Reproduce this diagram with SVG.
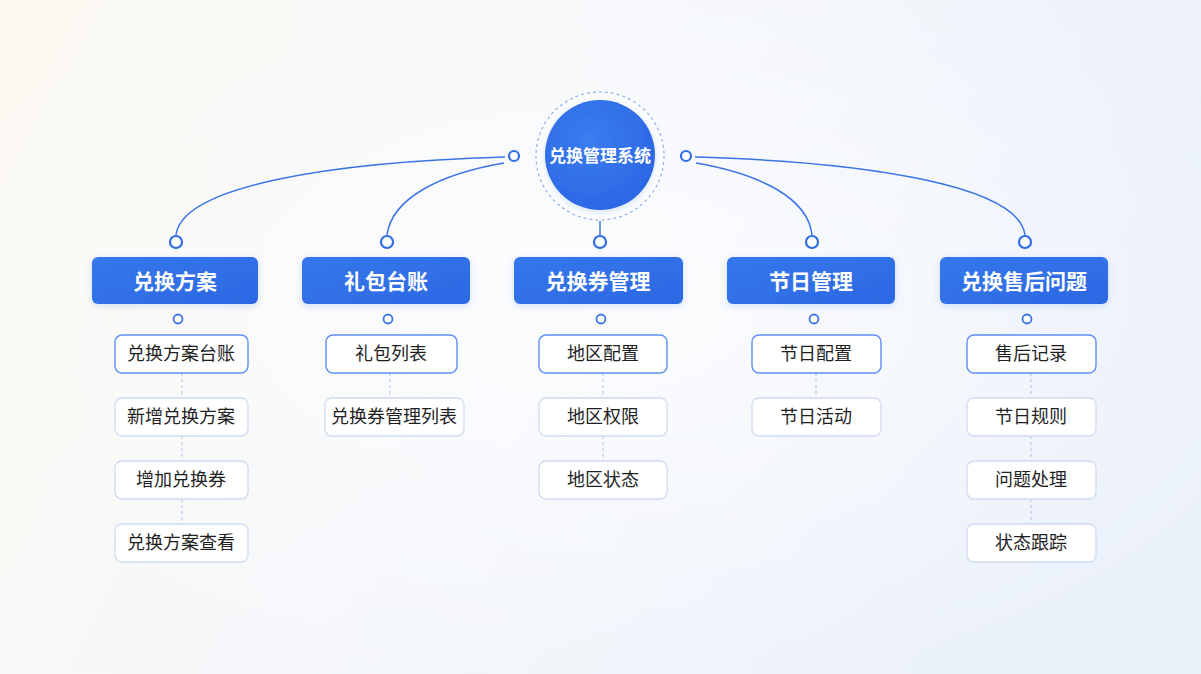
<svg xmlns="http://www.w3.org/2000/svg" width="1201" height="674" viewBox="0 0 1201 674">
<defs>
<linearGradient id="bg" x1="0" y1="0" x2="1" y2="0.3">
<stop offset="0" stop-color="#fcf9f1"/>
<stop offset="0.5" stop-color="#f5f7fb"/>
<stop offset="1" stop-color="#ebf1fb"/>
</linearGradient>
<radialGradient id="glow" cx="0.5" cy="0.45" r="0.6">
<stop offset="0" stop-color="#ffffff" stop-opacity="0.7"/>
<stop offset="1" stop-color="#ffffff" stop-opacity="0"/>
</radialGradient>
<linearGradient id="head" x1="0" y1="0" x2="1" y2="1">
<stop offset="0" stop-color="#3577ec"/>
<stop offset="1" stop-color="#2c68e3"/>
</linearGradient>
<radialGradient id="hub" cx="0.4" cy="0.35" r="0.7">
<stop offset="0" stop-color="#3b7cf0"/>
<stop offset="1" stop-color="#2b67e4"/>
</radialGradient>
<filter id="sh" x="-20%" y="-20%" width="140%" height="160%">
<feDropShadow dx="0" dy="2" stdDeviation="3" flood-color="#2c68e3" flood-opacity="0.18"/>
</filter>
</defs>
<style>
.conn{fill:none;stroke:#3a74e6;stroke-width:1.5}
.dash{fill:none;stroke:#b9c9ea;stroke-width:1.2;stroke-dasharray:3 3}
.dot{fill:#ffffff;stroke:#2f6ce5;stroke-width:2.2}
.dot2{fill:#ffffff;stroke:#3a74e6;stroke-width:1.8}
.head{fill:url(#head)}
.htxt{font-family:"Noto Sans CJK SC","Noto Sans",sans-serif;font-weight:700;font-size:21px;fill:#ffffff;text-anchor:middle}
.item{fill:#ffffff;stroke:#cfdcf3;stroke-width:1.3}
.item1{fill:#ffffff;stroke:#5d8ff0;stroke-width:1.4}
.itxt{font-family:"Noto Sans CJK SC","Noto Sans",sans-serif;font-size:18px;fill:#1f1f1f;text-anchor:middle}
</style>
<rect width="1201" height="674" fill="url(#bg)"/>
<rect width="1201" height="674" fill="url(#glow)"/>

<g id="connectors">
<path class="conn" d="M505,157 C330,162 182,186 176,235"/>
<path class="conn" d="M504,163 C440,174 392,198 387,235"/>
<path class="conn" d="M600,221 L600,235"/>
<path class="conn" d="M696,163 C760,174 808,198 812,235"/>
<path class="conn" d="M695,157 C870,162 1019,186 1025,235"/>
<path class="dash" d="M182,373 V398 M182,436 V461 M182,499 V524"/>
<path class="dash" d="M390,373 V398"/>
<path class="dash" d="M603,373 V398 M603,436 V461"/>
<path class="dash" d="M816,373 V398"/>
<path class="dash" d="M1031,373 V398 M1031,436 V461 M1031,499 V524"/>
</g>

<g id="hub">
<circle cx="600" cy="156" r="64" fill="#ffffff" fill-opacity="0.6" stroke="#8fb0ec" stroke-width="1.2" stroke-dasharray="3 3"/>
<circle cx="600" cy="155" r="55" fill="url(#hub)" filter="url(#sh)"/>
<text x="600" y="162" font-family="'Noto Sans CJK SC','Noto Sans',sans-serif" font-weight="700" font-size="17" fill="#ffffff" text-anchor="middle">兑换管理系统</text>
<circle class="dot" cx="514" cy="156" r="5"/>
<circle class="dot" cx="686" cy="156" r="5"/>
</g>

<g id="col1">
<circle class="dot" cx="176" cy="242" r="6"/>
<rect class="head" x="92" y="257" width="166" height="47" rx="6" filter="url(#sh)"/>
<text class="htxt" x="175" y="289">兑换方案</text>
<circle class="dot2" cx="178" cy="319" r="4.5"/>
<rect class="item1" x="115" y="335" width="133" height="38" rx="7"/>
<text class="itxt" x="181" y="360">兑换方案台账</text>
<rect class="item" x="115" y="398" width="133" height="38" rx="7"/>
<text class="itxt" x="181" y="423">新增兑换方案</text>
<rect class="item" x="115" y="461" width="133" height="38" rx="7"/>
<text class="itxt" x="181" y="486">增加兑换券</text>
<rect class="item" x="115" y="524" width="133" height="38" rx="7"/>
<text class="itxt" x="181" y="549">兑换方案查看</text>
</g>

<g id="col2">
<circle class="dot" cx="387" cy="242" r="6"/>
<rect class="head" x="302" y="257" width="168" height="47" rx="6" filter="url(#sh)"/>
<text class="htxt" x="386" y="289">礼包台账</text>
<circle class="dot2" cx="388" cy="319" r="4.5"/>
<rect class="item1" x="326" y="335" width="131" height="38" rx="7"/>
<text class="itxt" x="391" y="360">礼包列表</text>
<rect class="item" x="325" y="398" width="139" height="38" rx="7"/>
<text class="itxt" x="394" y="423">兑换券管理列表</text>
</g>

<g id="col3">
<circle class="dot" cx="600" cy="242" r="6"/>
<rect class="head" x="514" y="257" width="169" height="47" rx="6" filter="url(#sh)"/>
<text class="htxt" x="598" y="289">兑换券管理</text>
<circle class="dot2" cx="601" cy="319" r="4.5"/>
<rect class="item1" x="539" y="335" width="128" height="38" rx="7"/>
<text class="itxt" x="603" y="360">地区配置</text>
<rect class="item" x="539" y="398" width="128" height="38" rx="7"/>
<text class="itxt" x="603" y="423">地区权限</text>
<rect class="item" x="539" y="461" width="128" height="38" rx="7"/>
<text class="itxt" x="603" y="486">地区状态</text>
</g>

<g id="col4">
<circle class="dot" cx="812" cy="242" r="6"/>
<rect class="head" x="727" y="257" width="168" height="47" rx="6" filter="url(#sh)"/>
<text class="htxt" x="811" y="289">节日管理</text>
<circle class="dot2" cx="814" cy="319" r="4.5"/>
<rect class="item1" x="752" y="335" width="129" height="38" rx="7"/>
<text class="itxt" x="816" y="360">节日配置</text>
<rect class="item" x="752" y="398" width="129" height="38" rx="7"/>
<text class="itxt" x="816" y="423">节日活动</text>
</g>

<g id="col5">
<circle class="dot" cx="1025" cy="242" r="6"/>
<rect class="head" x="940" y="257" width="168" height="47" rx="6" filter="url(#sh)"/>
<text class="htxt" x="1024" y="289">兑换售后问题</text>
<circle class="dot2" cx="1027" cy="319" r="4.5"/>
<rect class="item1" x="967" y="335" width="129" height="38" rx="7"/>
<text class="itxt" x="1031" y="360">售后记录</text>
<rect class="item" x="967" y="398" width="129" height="38" rx="7"/>
<text class="itxt" x="1031" y="423">节日规则</text>
<rect class="item" x="967" y="461" width="129" height="38" rx="7"/>
<text class="itxt" x="1031" y="486">问题处理</text>
<rect class="item" x="967" y="524" width="129" height="38" rx="7"/>
<text class="itxt" x="1031" y="549">状态跟踪</text>
</g>
</svg>
